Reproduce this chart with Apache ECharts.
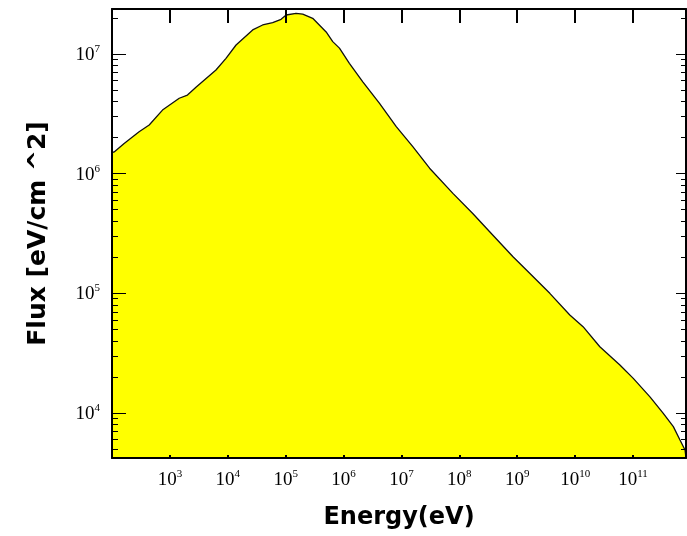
<!DOCTYPE html>
<html>
<head>
<meta charset="utf-8">
<script src="https://cdn.jsdelivr.net/npm/echarts@6/dist/echarts.min.js"></script>
<style>
html,body{margin:0;padding:0;background:#fff;}
#chart{width:687px;height:536px;}
</style>
</head>
<body>
<div id="chart"></div>
<script>
// Energy (eV) and flux (eV/cm^2)
const energy = [1.00e2,1.09e2,1.62e2,2.94e2,4.39e2,7.45e2,1.45e3,2.01e3,2.82e3,6.25e3,9.31e3,
  1.39e4,2.69e4,4.00e4,5.96e4,8.32e4,1.02e5,1.51e5,1.97e5,2.93e5,5.00e5,6.50e5,8.49e5,
  1.26e6,2.15e6,4.18e6,8.13e6,1.57e7,3.06e7,7.74e7,1.72e8,3.34e8,8.45e8,1.64e9,3.65e9,8.09e9,
  1.37e10,2.67e10,5.93e10,1.01e11,1.96e11,3.33e11,4.97e11,6.47e11,7.91e11,8.22e11];
const flux = [1.50e6,1.52e6,1.79e6,2.24e6,2.55e6,3.40e6,4.27e6,4.54e6,5.27e6,7.35e6,9.20e6,
  1.19e7,1.59e7,1.75e7,1.83e7,1.95e7,2.12e7,2.19e7,2.16e7,1.99e7,1.53e7,1.27e7,1.12e7,
  8.36e6,5.86e6,3.87e6,2.47e6,1.68e6,1.11e6,6.84e5,4.62e5,3.27e5,2.02e5,1.47e5,9.98e4,6.58e4,
  5.25e4,3.57e4,2.51e4,1.94e4,1.36e4,9.91e3,7.66e3,5.93e3,4.89e3,4.19e3];
const xRange = [1e2, 8.22e11];
const yRange = [4.19e3, 2.38e7];
const xTickValues = [1e3,1e4,1e5,1e6,1e7,1e8,1e9,1e10,1e11];
const yMajorTicks = [1e4,1e5,1e6,1e7];
const yMinorTicks = [5e3,6e3,7e3,8e3,9e3,
  2e4,3e4,4e4,5e4,6e4,7e4,8e4,9e4,
  2e5,3e5,4e5,5e5,6e5,7e5,8e5,9e5,
  2e6,3e6,4e6,5e6,6e6,7e6,8e6,9e6,2e7];
const xTitle = 'Energy(eV)';
const yTitle = 'Flux [eV/cm ^2]';

const chart = echarts.init(document.getElementById('chart'), null, {renderer:'canvas'});
const powLabel = v => '{b|10}{s|' + Math.round(Math.log10(v)) + '}';
const richStyle = {
  b: {fontFamily:'Liberation Serif', fontSize:19, color:'#000', lineHeight:21, verticalAlign:'bottom'},
  s: {fontFamily:'Liberation Serif', fontSize:11, color:'#000', lineHeight:12, verticalAlign:'top'}
};
const blackLine = {show:true, lineStyle:{color:'#000', width:2}};
const titleFont = {fontFamily:'DejaVu Sans', fontWeight:'bold', fontSize:24, color:'#000'};

function yAxisDef(pos, ticks, len, line, labels) {
  return {
    type:'log', position:pos, min:yRange[0], max:yRange[1], z:5,
    axisLine: line ? blackLine : {show:false},
    axisTick:{show:true, inside:true, length:len, customValues:ticks, lineStyle:{color:'#000', width:1}},
    axisLabel: labels ? {show:true, customValues:yMajorTicks, formatter:powLabel, rich:richStyle, margin:12} : {show:false},
    splitLine:{show:false}, minorTick:{show:false}
  };
}

chart.setOption({
  animation:false,
  backgroundColor:'#fff',
  grid:{left:112, right:1, top:9, bottom:78, containLabel:false},
  xAxis:[
    {type:'log', position:'bottom', min:xRange[0], max:xRange[1], z:5,
     name:xTitle, nameLocation:'middle', nameGap:48, nameTextStyle:titleFont,
     axisLine:blackLine,
     axisTick:{show:true, inside:true, length:3, customValues:xTickValues, lineStyle:{color:'#000', width:2}},
     axisLabel:{show:true, customValues:xTickValues, formatter:powLabel, rich:richStyle, margin:11},
     splitLine:{show:false}},
    {type:'log', position:'top', min:xRange[0], max:xRange[1], z:5,
     axisLine:blackLine,
     axisTick:{show:true, inside:true, length:14, customValues:xTickValues, lineStyle:{color:'#000', width:2}},
     axisLabel:{show:false}, splitLine:{show:false}}
  ],
  yAxis:[
    Object.assign(yAxisDef('left', yMajorTicks, 14, true, true),
      {name:yTitle, nameLocation:'middle', nameRotate:90, nameGap:61,
       nameTextStyle:Object.assign({}, titleFont, {fontSize:25})}),
    yAxisDef('left', yMinorTicks, 6, false, false),
    yAxisDef('right', yMajorTicks, 10, true, false),
    yAxisDef('right', yMinorTicks, 5, false, false)
  ],
  series:[{
    type:'line', xAxisIndex:0, yAxisIndex:0,
    data: energy.map((e, i) => [e, flux[i]]),
    showSymbol:false, smooth:false,
    lineStyle:{color:'#111', width:1.3},
    areaStyle:{color:'#ffff00', opacity:1, origin:'start'},
    z:2
  }]
});
</script>
</body>
</html>
